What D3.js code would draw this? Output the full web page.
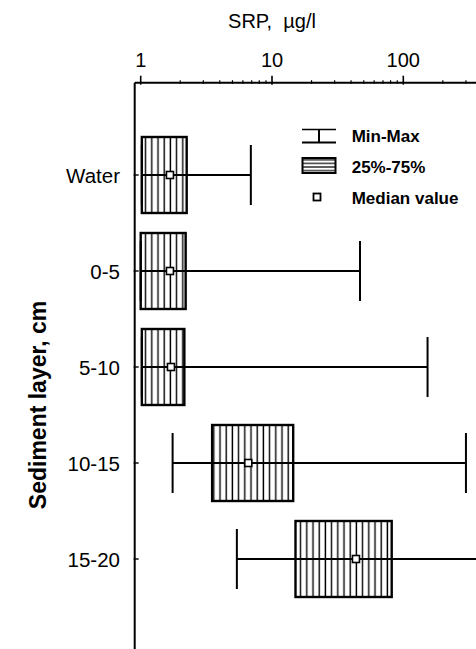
<!DOCTYPE html>
<html>
<head>
<meta charset="utf-8">
<script src="https://cdn.jsdelivr.net/npm/d3@7"></script>
<style>
  body { margin: 0; background: #fff; }
  svg text { font-family: "Liberation Sans", Arial, sans-serif; fill: #000; }
</style>
</head>
<body>
<svg id="chart"></svg>
<script>
// categories (top to bottom) and box statistics, SRP in ug/l
const layers = ["Water", "0-5", "5-10", "10-15", "15-20"];
const minVals = [1.02, 1.0, 1.02, 1.75, 5.4];
const q1Vals = [1.02, 1.0, 1.02, 3.5, 15.1];
const medianVals = [1.67, 1.67, 1.7, 6.6, 43.6];
const q3Vals = [2.24, 2.2, 2.15, 14.5, 81.6];
const maxVals = [6.9, 46.8, 153, 300, 700];
const majorTicks = [1, 10, 100];
const minorTicks = [2, 3, 4, 5, 6, 7, 8, 9, 20, 30, 40, 50, 60, 70, 80, 90, 200, 300];

const width = 476, height = 649;
const svg = d3.select("#chart")
    .attr("width", width)
    .attr("height", height);

const defs = svg.append("defs");

// vertical hatching for the boxes
const vHatch = defs.append("pattern")
    .attr("id", "vhatch")
    .attr("patternUnits", "userSpaceOnUse")
    .attr("width", 6.2)
    .attr("height", 10);
vHatch.append("rect").attr("width", 6.2).attr("height", 10).attr("fill", "#fff");
vHatch.append("line")
    .attr("x1", 3).attr("x2", 3)
    .attr("y1", 0).attr("y2", 10)
    .attr("stroke", "#000")
    .attr("stroke-width", 1.4);

// horizontal hatching for the legend swatch
const hHatch = defs.append("pattern")
    .attr("id", "hhatch")
    .attr("patternUnits", "userSpaceOnUse")
    .attr("width", 10)
    .attr("height", 3.6)
    .attr("y", 158);
hHatch.append("rect").attr("width", 10).attr("height", 3.6).attr("fill", "#fff");
hHatch.append("line")
    .attr("x1", 0).attr("x2", 10)
    .attr("y1", 1.8).attr("y2", 1.8)
    .attr("stroke", "#000")
    .attr("stroke-width", 1.2);

const axisLeftX = 134.7;
const axisTopY = 82.7;

const x = d3.scaleLog()
    .domain([1, 1000])
    .range([140.7, 534.6]);

const y = d3.scalePoint()
    .domain(layers)
    .range([175, 559]);

const boxHalf = 38;
const capHalf = 30;

const data = layers.map((name, i) => ({
    name: name,
    min: minVals[i],
    q1: q1Vals[i],
    median: medianVals[i],
    q3: q3Vals[i],
    max: maxVals[i]
}));

// axes (top and left only)
svg.append("line")
    .attr("x1", axisLeftX).attr("x2", width)
    .attr("y1", axisTopY).attr("y2", axisTopY)
    .attr("stroke", "#000").attr("stroke-width", 2);

svg.append("line")
    .attr("x1", axisLeftX).attr("x2", axisLeftX)
    .attr("y1", axisTopY).attr("y2", height)
    .attr("stroke", "#000").attr("stroke-width", 2);

svg.selectAll(".major")
    .data(majorTicks)
    .enter()
    .append("line")
    .attr("x1", d => x(d)).attr("x2", d => x(d))
    .attr("y1", axisTopY - 7).attr("y2", axisTopY + 2)
    .attr("stroke", "#000").attr("stroke-width", 1.6);

svg.selectAll(".minor")
    .data(minorTicks)
    .enter()
    .append("line")
    .attr("x1", d => x(d)).attr("x2", d => x(d))
    .attr("y1", axisTopY - 2.5).attr("y2", axisTopY + 1)
    .attr("stroke", "#000").attr("stroke-width", 1.2);

svg.selectAll(".xlabel")
    .data(majorTicks)
    .enter()
    .append("text")
    .attr("x", d => x(d))
    .attr("y", 67)
    .attr("text-anchor", "middle")
    .style("font-size", "20px")
    .text(d => d);

svg.append("text")
    .attr("x", x(10))
    .attr("y", 28)
    .attr("text-anchor", "middle")
    .style("font-size", "20px")
    .style("white-space", "pre")
    .text("SRP,  \u00b5g/l");

// left ticks and category labels
svg.selectAll(".ytick")
    .data(layers)
    .enter()
    .append("line")
    .attr("x1", axisLeftX - 1).attr("x2", axisLeftX + 4)
    .attr("y1", d => y(d)).attr("y2", d => y(d))
    .attr("stroke", "#000").attr("stroke-width", 1.4);

svg.selectAll(".ylabel")
    .data(layers)
    .enter()
    .append("text")
    .attr("x", 120)
    .attr("y", d => y(d) + 7.5)
    .attr("text-anchor", "end")
    .style("font-size", "20.5px")
    .text(d => d);

svg.append("text")
    .attr("transform", "translate(46, 405) rotate(-90)")
    .attr("text-anchor", "middle")
    .style("font-size", "23px")
    .style("font-weight", "bold")
    .text("Sediment layer, cm");

// boxes
const g = svg.append("g");

const item = g.selectAll(".item")
    .data(data)
    .enter()
    .append("g");

item.append("rect")
    .attr("x", d => x(d.q1))
    .attr("y", d => y(d.name) - boxHalf)
    .attr("width", d => x(d.q3) - x(d.q1))
    .attr("height", boxHalf * 2)
    .attr("fill", "url(#vhatch)")
    .attr("stroke", "#000")
    .attr("stroke-width", 2.4);

// whisker line
item.append("line")
    .attr("x1", d => x(d.min)).attr("x2", d => x(d.max))
    .attr("y1", d => y(d.name)).attr("y2", d => y(d.name))
    .attr("stroke", "#000").attr("stroke-width", 2);

// caps
item.append("line")
    .attr("x1", d => x(d.min)).attr("x2", d => x(d.min))
    .attr("y1", d => y(d.name) - capHalf).attr("y2", d => y(d.name) + capHalf)
    .attr("stroke", "#000").attr("stroke-width", 2);

item.append("line")
    .attr("x1", d => x(d.max)).attr("x2", d => x(d.max))
    .attr("y1", d => y(d.name) - capHalf).attr("y2", d => y(d.name) + capHalf)
    .attr("stroke", "#000").attr("stroke-width", 2);

// median squares
item.append("rect")
    .attr("x", d => x(d.median) - 3.5)
    .attr("y", d => y(d.name) - 3.5)
    .attr("width", 7)
    .attr("height", 7)
    .attr("fill", "#fff")
    .attr("stroke", "#000")
    .attr("stroke-width", 1.6);

// legend
const legend = svg.append("g");

legend.append("line")
    .attr("x1", 302).attr("x2", 336)
    .attr("y1", 129.5).attr("y2", 129.5)
    .attr("stroke", "#000").attr("stroke-width", 1.4);
legend.append("line")
    .attr("x1", 302).attr("x2", 336)
    .attr("y1", 142.5).attr("y2", 142.5)
    .attr("stroke", "#000").attr("stroke-width", 2);
legend.append("line")
    .attr("x1", 319).attr("x2", 319)
    .attr("y1", 129.5).attr("y2", 142.5)
    .attr("stroke", "#000").attr("stroke-width", 2);

legend.append("rect")
    .attr("x", 302.5).attr("y", 158)
    .attr("width", 33).attr("height", 15)
    .attr("fill", "url(#hhatch)")
    .attr("stroke", "#000")
    .attr("stroke-width", 2);

legend.append("rect")
    .attr("x", 313.5).attr("y", 193.5)
    .attr("width", 7).attr("height", 7)
    .attr("fill", "#fff")
    .attr("stroke", "#000")
    .attr("stroke-width", 1.8);

const legendLabels = ["Min-Max", "25%-75%", "Median value"];
const legendBaselines = [141.7, 173.3, 204];

legend.selectAll(".ltext")
    .data(legendLabels)
    .enter()
    .append("text")
    .attr("x", 351.7)
    .attr("y", (d, i) => legendBaselines[i])
    .style("font-size", "17px")
    .style("font-weight", "bold")
    .text(d => d);
</script>
</body>
</html>
